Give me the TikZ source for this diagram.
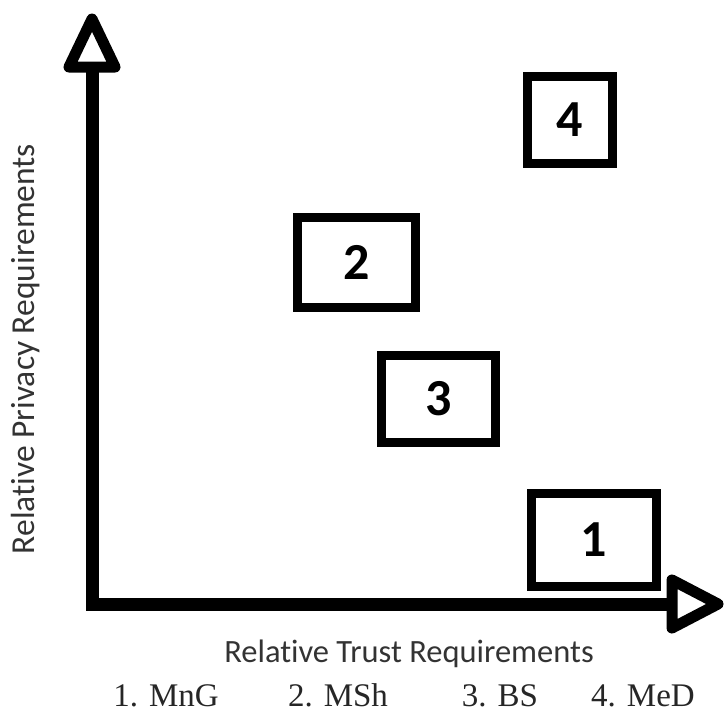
\documentclass[tikz,border=0pt]{standalone}
\usepackage{fontspec}
\setmainfont{Liberation Serif}
\newfontfamily\labelfont[Ligatures=NoCommon]{Carlito}
\begin{document}
\begin{tikzpicture}[x=1pt,y=-1pt,
  axis/.style={line width=13pt, line join=miter, line cap=butt},
  head/.style={line width=11pt, line join=round, fill=white},
  quadbox/.style={draw, line width=8.5pt, inner sep=0pt,
    font=\labelfont\bfseries\fontsize{52}{56}\selectfont},
  axislabel/.style={inner sep=0pt, text=black!80,
    font=\labelfont\fontsize{32.5}{38}\selectfont},
  legend/.style={inner sep=0pt, anchor=base, text=black!85,
    font=\fontsize{33}{38}\selectfont}]
\useasboundingbox (0,0) rectangle (725,715);

% axes
\coordinate (O) at (92,604);
\coordinate (ytip) at (92,67);
\coordinate (xtip) at (672,604);
\draw[axis] (ytip) -- (O) -- (xtip);
\draw[head] (ytip) ++(-23,0) -- ++(23,-48) -- ++(23,48) -- cycle;
\draw[head] (xtip) ++(0,-24) -- ++(46,24) -- ++(-46,24) -- cycle;

% axis labels
\node[axislabel, anchor=base] (xlabel) at (409,662) {Relative Trust Requirements};
\node[axislabel, anchor=base, rotate=90, font=\labelfont\fontsize{33.5}{38}\selectfont]
  (ylabel) at (34,349) {Relative Privacy Requirements};

% scenario boxes
\node[quadbox, minimum width=85pt, minimum height=87pt] (b4) at (570,120) {4};
\node[quadbox, minimum width=118pt, minimum height=90pt] (b2) at (356.5,262.5) {2};
\node[quadbox, minimum width=114pt, minimum height=87pt] (b3) at (438.5,399) {3};
\node[quadbox, minimum width=125pt, minimum height=93pt] (b1) at (594,540) {1};

% legend
\node[legend] (l1) at (166,706) {1. MnG};
\node[legend] (l2) at (338,706) {2. MSh};
\node[legend] (l3) at (500,706) {3. BS};
\node[legend] (l4) at (643,706) {4. MeD};
\end{tikzpicture}
\end{document}
